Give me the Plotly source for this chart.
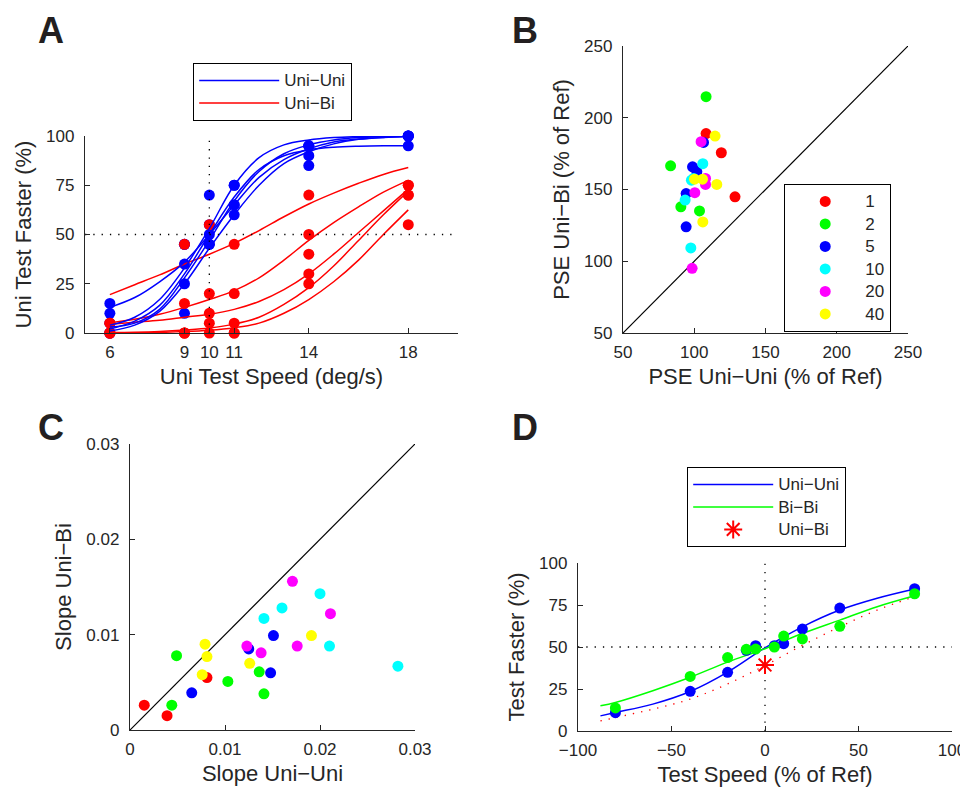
import plotly.graph_objects as go

# ---------------- data ----------------
# panel A: psychometric points and fitted curves
speeds = [6, 9, 10, 11, 14, 18]
a_blue_x = [6, 6, 6, 6, 6, 9, 9, 9, 9, 9, 10, 10, 10, 10, 10, 11, 11, 11, 11, 11,
            14, 14, 14, 14, 14, 18, 18, 18, 18, 18]
a_blue_y = [15, 10, 5, 0, 0, 45, 45, 35, 25, 10, 70, 55, 50, 45, 45, 75, 75, 65, 65, 60,
            95, 95, 90, 95, 85, 100, 100, 100, 95, 100]
a_red_x = [6, 6, 6, 6, 6, 9, 9, 9, 9, 9, 10, 10, 10, 10, 10, 11, 11, 11, 11, 11,
           14, 14, 14, 14, 14, 18, 18, 18, 18, 18]
a_red_y = [5, 5, 0, 0, 0, 45, 15, 0, 0, 0, 55, 20, 10, 5, 0, 45, 20, 5, 0, 0,
           70, 50, 40, 30, 25, 75, 75, 70, 55, 70]

curve_x = [6, 7, 8, 9, 10, 11, 12, 13, 14, 15, 16, 17, 18]
blue_curves = [
    [4, 8, 17, 33, 53, 75, 89, 95.5, 98, 99.2, 99.7, 99.9, 100],
    [13, 18, 26, 36, 50, 65, 79, 88, 93.5, 97, 98.5, 99.3, 99.7],
    [2, 6, 14, 30, 50, 69, 83, 90, 93, 94.3, 94.8, 95, 95],
    [1, 4, 11, 25, 43, 60, 75, 86, 92, 96, 98.3, 99.3, 99.7],
    [3, 5, 12, 28, 47, 67, 82, 91, 95.5, 98, 99.2, 99.7, 100],
]
red_curves = [
    [19.5, 24.5, 29.5, 35, 40, 45.5, 52, 59, 65.5, 71, 76, 80.5, 84],
    [5.2, 7, 9.5, 13, 17, 21.5, 28, 37, 47, 56, 64, 71.5, 77.5],
    [4.5, 5.5, 6.5, 8, 9.5, 12, 16, 22, 30, 40, 51, 62, 73],
    [0.2, 0.4, 0.8, 1.5, 2.5, 4.5, 8, 14.5, 23, 34, 47, 60, 72],
    [0, 0.1, 0.3, 0.7, 1.4, 2.7, 5, 10, 17, 26, 37, 50, 62.5],
]

# panels B and C: one entry per reference speed group
groups = ["1", "2", "5", "10", "20", "40"]
group_colors = ["#ff0000", "#00ff00", "#0000ff", "#00ffff", "#ff00ff", "#ffff00"]
pse_uni = [
    [108.3, 119, 128.6],
    [108.3, 83.4, 90.6, 103.7],
    [106.5, 98.8, 101.8, 94.3, 94.3],
    [106, 99.5, 98, 93.6, 97.6],
    [104.8, 107.9, 107.9, 100.4, 98.5],
    [114.6, 100.2, 105.8, 115.8, 106],
]
pse_bi = [
    [189, 175.6, 144.9],
    [214.7, 166.5, 137.9, 135.1],
    [182.8, 165.8, 162.3, 147.2, 124],
    [168, 157.7, 156.5, 142.6, 109.3],
    [183.3, 157.7, 153.5, 147.8, 95.1],
    [187.2, 157.2, 157.2, 153.5, 127.4],
]
slope_uni = [
    [0.0015, 0.0039, 0.0081],
    [0.0049, 0.0044, 0.0103, 0.0136, 0.0141],
    [0.0065, 0.0125, 0.0151, 0.0148],
    [0.0141, 0.016, 0.02, 0.021, 0.0282],
    [0.0171, 0.0211, 0.0176, 0.0123, 0.0138],
    [0.0079, 0.0081, 0.0076, 0.0126, 0.0191],
]
slope_bi = [
    [0.0026, 0.0015, 0.0055],
    [0.0078, 0.0026, 0.0051, 0.0061, 0.0038],
    [0.0039, 0.0085, 0.0099, 0.006],
    [0.0117, 0.0128, 0.0143, 0.0088, 0.0067],
    [0.0156, 0.0122, 0.0088, 0.0088, 0.0081],
    [0.009, 0.0077, 0.0058, 0.007, 0.0099],
]
diag_b = [50, 250]
diag_c = [0, 0.03]

# panel D
d_x = [-80, -40, -20, -10, -5, 5, 10, 20, 40, 80]
d_uni = [10.9, 23.6, 34.9, 48, 50.8, 50.8, 52, 60.7, 73.2, 84.7]
d_bibi = [13.7, 32.5, 43.7, 48.6, 48.8, 50, 56.5, 54.8, 62.3, 81.7]
d_curve_x = [-88, -80, -60, -40, -20, 0, 20, 40, 60, 80]
d_uni_fit = [9, 11, 16, 23.5, 35, 49.5, 62, 72, 79, 84.5]
d_bibi_fit = [15, 17, 24, 32, 41, 49, 58, 66, 74, 80.5]
d_unibi_fit = [6, 8, 13, 19, 28, 39, 51, 62, 72, 80]
d_star_x = [0]
d_star_y = [39.3]

FONT = "Liberation Sans, Arial, sans-serif"
INK = "#262626"
W, H = 960, 779   # page body adds an 8 px margin
DOTS = "1.3px,7px"


def px_x(p):
    return (p - 8) / W


def px_y(p):
    return 1 - (p - 8) / H


def lbl(s):
    # legend text a bit larger than the row spacing font
    return '<span style="font-size:17px">%s</span>' % s


fig = go.Figure()

# ---- A ----
fig.add_trace(go.Scatter(x=a_blue_x, y=a_blue_y, mode="markers", xaxis="x", yaxis="y",
                         marker=dict(size=11, color="#0000ff"), showlegend=False, cliponaxis=False))
fig.add_trace(go.Scatter(x=a_red_x, y=a_red_y, mode="markers", xaxis="x", yaxis="y",
                         marker=dict(size=11, color="#ff0000"), showlegend=False, cliponaxis=False))
for i, c in enumerate(red_curves):
    fig.add_trace(go.Scatter(x=curve_x, y=c, mode="lines", xaxis="x", yaxis="y",
                             line=dict(color="#ff0000", width=1.5, shape="spline"),
                             name=lbl("Uni\u2212Bi"), showlegend=(i == 0), legend="legend",
                             legendrank=2))
for i, c in enumerate(blue_curves):
    fig.add_trace(go.Scatter(x=curve_x, y=c, mode="lines", xaxis="x", yaxis="y",
                             line=dict(color="#0000ff", width=1.5, shape="spline"),
                             name=lbl("Uni\u2212Uni"), showlegend=(i == 0), legend="legend",
                             legendrank=1))
fig.add_trace(go.Scatter(x=[5, 20], y=[50, 50], mode="lines", xaxis="x", yaxis="y",
                         line=dict(color="black", width=1.3, dash=DOTS), showlegend=False))
fig.add_trace(go.Scatter(x=[10, 10], y=[0, 100], mode="lines", xaxis="x", yaxis="y",
                         line=dict(color="black", width=1.3, dash=DOTS), showlegend=False))

# ---- B ----
fig.add_trace(go.Scatter(x=diag_b, y=diag_b, mode="lines", xaxis="x2", yaxis="y2",
                         line=dict(color="black", width=1.2), showlegend=False))
for g, col, xs, ys in zip(groups, group_colors, pse_uni, pse_bi):
    fig.add_trace(go.Scatter(x=xs, y=ys, mode="markers", xaxis="x2", yaxis="y2", name=lbl(g),
                             marker=dict(size=11, color=col), legend="legend2"))

# ---- C ----
fig.add_trace(go.Scatter(x=diag_c, y=diag_c, mode="lines", xaxis="x3", yaxis="y3",
                         line=dict(color="black", width=1.2), showlegend=False))
for g, col, xs, ys in zip(groups, group_colors, slope_uni, slope_bi):
    fig.add_trace(go.Scatter(x=xs, y=ys, mode="markers", xaxis="x3", yaxis="y3", name=g,
                             marker=dict(size=11, color=col), showlegend=False))

# ---- D ----
fig.add_trace(go.Scatter(x=[-100, 100], y=[50, 50], mode="lines", xaxis="x4", yaxis="y4",
                         line=dict(color="black", width=1.3, dash=DOTS), showlegend=False))
fig.add_trace(go.Scatter(x=[0, 0], y=[0, 100], mode="lines", xaxis="x4", yaxis="y4",
                         line=dict(color="black", width=1.3, dash=DOTS), showlegend=False))
fig.add_trace(go.Scatter(x=d_curve_x, y=d_unibi_fit, mode="lines", xaxis="x4", yaxis="y4",
                         line=dict(color="#ff0000", width=1.3, dash=DOTS, shape="spline"),
                         showlegend=False))
fig.add_trace(go.Scatter(x=d_curve_x, y=d_uni_fit, mode="lines", xaxis="x4", yaxis="y4",
                         line=dict(color="#0000ff", width=1.5, shape="spline"),
                         name=lbl("Uni\u2212Uni"), legend="legend3"))
fig.add_trace(go.Scatter(x=d_curve_x, y=d_bibi_fit, mode="lines", xaxis="x4", yaxis="y4",
                         line=dict(color="#00ff00", width=1.5, shape="spline"),
                         name=lbl("Bi\u2212Bi"), legend="legend3"))
fig.add_trace(go.Scatter(x=d_x, y=d_uni, mode="markers", xaxis="x4", yaxis="y4",
                         marker=dict(size=11, color="#0000ff"), showlegend=False, cliponaxis=False))
fig.add_trace(go.Scatter(x=d_x, y=d_bibi, mode="markers", xaxis="x4", yaxis="y4",
                         marker=dict(size=11, color="#00ff00"), showlegend=False, cliponaxis=False))
fig.add_trace(go.Scatter(x=d_star_x, y=d_star_y, mode="markers", xaxis="x4", yaxis="y4",
                         name=lbl("Uni\u2212Bi"), legend="legend3",
                         marker=dict(symbol="asterisk-open", size=15, color="#ff0000",
                                     line=dict(color="#ff0000", width=2))))


def ax(kind, **kw):
    base = dict(showline=True, linecolor=INK, linewidth=1.3, ticks="inside", ticklen=5,
                tickcolor=INK, tickwidth=1.2, showgrid=False, zeroline=False,
                ticklabelstandoff=3 if kind == "x" else 6,
                tickfont=dict(size=17, color=INK, family=FONT),
                title_font=dict(size=22, color=INK, family=FONT))
    base.update(kw)
    return base


legend_style = dict(bgcolor="white", bordercolor="black", borderwidth=1.2,
                    font=dict(size=15, color=INK, family=FONT), itemwidth=80,
                    xanchor="left", yanchor="top", tracegroupgap=0)

fig.update_layout(
    width=W, height=H,
    margin=dict(l=0, r=0, t=0, b=0, autoexpand=False),
    plot_bgcolor="white", paper_bgcolor="white",
    font=dict(family=FONT, color=INK),
    xaxis=ax("x", domain=[px_x(85), px_x(458)], anchor="y", range=[5, 20], tickvals=speeds,
             title=dict(text="Uni Test Speed (deg/s)", standoff=8)),
    yaxis=ax("y", domain=[px_y(333), px_y(136)], anchor="x", range=[0, 100],
             tickvals=[0, 25, 50, 75, 100],
             title=dict(text="Uni Test Faster (%)", standoff=8)),
    xaxis2=ax("x", domain=[px_x(623), px_x(908)], anchor="y2", range=[50, 250],
              tickvals=[50, 100, 150, 200, 250],
              title=dict(text="PSE Uni\u2212Uni (% of Ref)", standoff=8)),
    yaxis2=ax("y", domain=[px_y(333), px_y(46)], anchor="x2", range=[50, 250],
              tickvals=[50, 100, 150, 200, 250],
              title=dict(text="PSE Uni\u2212Bi (% of Ref)", standoff=8)),
    xaxis3=ax("x", domain=[px_x(130), px_x(415)], anchor="y3", range=[0, 0.03],
              tickvals=[0, 0.01, 0.02, 0.03], ticktext=["0", "0.01", "0.02", "0.03"],
              title=dict(text="Slope Uni\u2212Uni", standoff=8)),
    yaxis3=ax("y", domain=[px_y(730), px_y(444)], anchor="x3", range=[0, 0.03],
              tickvals=[0, 0.01, 0.02, 0.03], ticktext=["0", "0.01", "0.02", "0.03"],
              title=dict(text="Slope Uni\u2212Bi", standoff=8)),
    xaxis4=ax("x", domain=[px_x(578), px_x(952)], anchor="y4", range=[-100, 100],
              tickvals=[-100, -50, 0, 50, 100],
              title=dict(text="Test Speed (% of Ref)", standoff=8)),
    yaxis4=ax("y", domain=[px_y(731), px_y(563)], anchor="x4", range=[0, 100],
              tickvals=[0, 25, 50, 75, 100],
              title=dict(text="Test Faster (%)", standoff=8)),
    legend=dict(legend_style, x=px_x(193), y=px_y(63)),
    legend2=dict(legend_style, x=px_x(784), y=px_y(184), itemwidth=70),
    legend3=dict(legend_style, x=px_x(687), y=px_y(467)),
)

# panel letters: anchored by the top of their text box
for letter, x, y in [("A", 51, 8), ("B", 525, 8), ("C", 51, 405), ("D", 525, 405)]:
    fig.add_annotation(text="<b>%s</b>" % letter, x=px_x(x), y=px_y(y), xref="paper", yref="paper",
                       showarrow=False, xanchor="center", yanchor="top",
                       font=dict(size=36, color="#231f20", family=FONT))

fig.write_html("out.html")
